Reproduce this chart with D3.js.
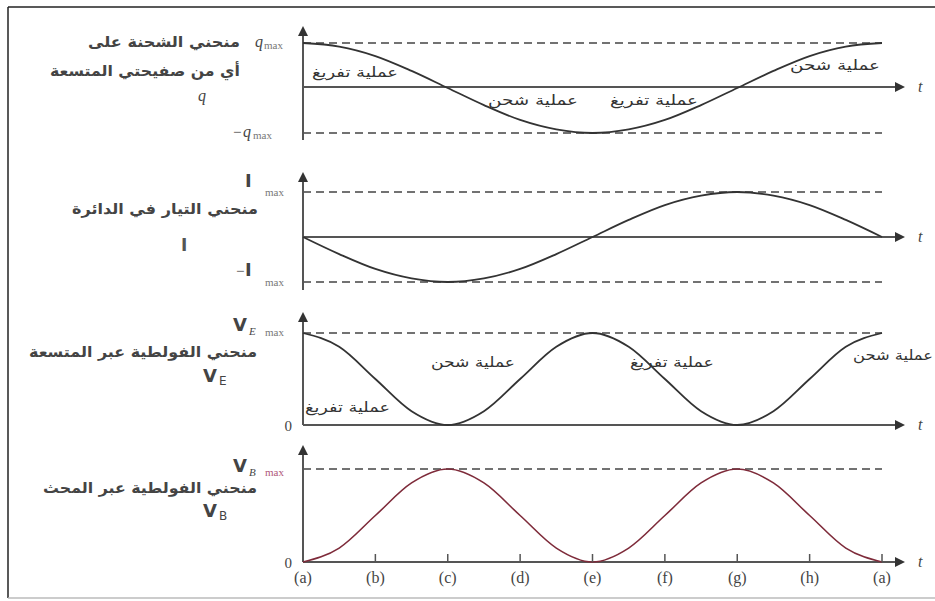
<!DOCTYPE html>
<html><head><meta charset="utf-8">
<script src="https://cdn.jsdelivr.net/npm/d3@7/dist/d3.min.js"></script>
<style>html,body{margin:0;padding:0;background:#fff;}svg{display:block;}</style>
</head><body><div id="chart"></div>
<script>
// ---- data ----
const timeLabels = ["(a)","(b)","(c)","(d)","(e)","(f)","(g)","(h)","(a)"];
const tSteps = [0,0.5,1,1.5,2,2.5,3,3.5,4,4.5,5,5.5,6,6.5,7,7.5,8];
const qValues  = [1,0.92,0.71,0.38,0,-0.38,-0.71,-0.92,-1,-0.92,-0.71,-0.38,0,0.38,0.71,0.92,1];
const iValues  = [0,-0.38,-0.71,-0.92,-1,-0.92,-0.71,-0.38,0,0.38,0.71,0.92,1,0.92,0.71,0.38,0];
const vEValues = [1,0.85,0.5,0.15,0,0.15,0.5,0.85,1,0.85,0.5,0.15,0,0.15,0.5,0.85,1];
const vBValues = [0,0.15,0.5,0.85,1,0.85,0.5,0.15,0,0.15,0.5,0.85,1,0.85,0.5,0.15,0];
const titles = [
  ["منحني الشحنة على","أي من صفيحتي المتسعة"],
  ["منحني التيار في الدائرة"],
  ["منحني الفولطية عبر المتسعة"],
  ["منحني الفولطية عبر المحث"]
];
const discharge = "عملية تفريغ", charge = "عملية شحن";

const W = 935, H = 601;
const svg = d3.select("#chart").append("svg").attr("width", W).attr("height", H);

// frame
svg.append("line").attr("x1",8).attr("y1",7).attr("x2",935).attr("y2",7).attr("stroke","#222").attr("stroke-width",1.5);
svg.append("line").attr("x1",8).attr("y1",7).attr("x2",8).attr("y2",598).attr("stroke","#222").attr("stroke-width",1.5);
svg.append("line").attr("x1",8).attr("y1",598).attr("x2",935).attr("y2",598).attr("stroke","#bbb").attr("stroke-width",1.5);

const x = d3.scaleLinear().domain([0,8]).range([303,882]);
const axisColor = "#555", curveColor = "#333";
const arabic = "'DejaVu Sans', sans-serif";
const serif = "'Liberation Serif', 'DejaVu Serif', serif";

const panels = [
  {vals:qValues, dom:[-1,1], rng:[133,43], zeroY:87, top:26, bot:140, vLines:[1,-1]},
  {vals:iValues, dom:[-1,1], rng:[282,192], zeroY:237, top:172, bot:290, vLines:[1,-1]},
  {vals:vEValues, dom:[0,1], rng:[425,333], zeroY:425, top:312, bot:425, vLines:[1]},
  {vals:vBValues, dom:[0,1], rng:[562,469], zeroY:562, top:445, bot:562, vLines:[1]}
];

panels.forEach((p,pi) => {
  const y = d3.scaleLinear().domain(p.dom).range(p.rng);
  p.y = y;
  const g = svg.append("g");
  p.vLines.forEach(v => {
    g.append("line").attr("x1", x(0)).attr("x2", x(8)).attr("y1", y(v)).attr("y2", y(v))
      .attr("stroke","#444").attr("stroke-width",1.6).attr("stroke-dasharray","8,5");
  });
  g.append("line").attr("x1",x(0)).attr("x2",x(0)).attr("y1",p.bot).attr("y2",p.top+8)
    .attr("stroke",axisColor).attr("stroke-width",2);
  g.append("path").attr("d",`M${x(0)-5},${p.top+10}L${x(0)},${p.top}L${x(0)+5},${p.top+10}Z`).attr("fill","#333");
  const ax1 = 905;
  g.append("line").attr("x1",x(0)).attr("x2",ax1-8).attr("y1",p.zeroY).attr("y2",p.zeroY)
    .attr("stroke",axisColor).attr("stroke-width",2);
  g.append("path").attr("d",`M${ax1-10},${p.zeroY-5}L${ax1},${p.zeroY}L${ax1-10},${p.zeroY+5}Z`).attr("fill","#333");
  g.append("text").attr("x",ax1+13).attr("y",p.zeroY+5).attr("font-family",serif).attr("font-style","italic")
    .attr("font-size",16).attr("fill","#444").text("t");
  const line = d3.line().x((d,i)=>x(tSteps[i])).y(d=>y(d)).curve(d3.curveMonotoneX);
  g.append("path").datum(p.vals).attr("d",line).attr("fill","none")
    .attr("stroke", pi===3 ? "#7e2b3a" : curveColor).attr("stroke-width", pi===3 ? 1.6 : 1.8);
});

// bottom time ticks and labels
const bottom = panels[3];
svg.append("g").selectAll("line").data(timeLabels.slice(1)).join("line")
  .attr("x1",(d,i)=>x(i+1)).attr("x2",(d,i)=>x(i+1)).attr("y1",bottom.zeroY).attr("y2",bottom.zeroY-8)
  .attr("stroke",axisColor).attr("stroke-width",1.5);
svg.append("g").selectAll("text").data(timeLabels).join("text")
  .attr("x",(d,i)=>x(i)).attr("y",583).attr("text-anchor","middle")
  .attr("font-family",serif).attr("font-size",16).attr("fill","#444").text(d=>d);

// y-side labels
function txt(xx, yy, s, opts){
  opts = opts || {};
  return svg.append("text").attr("x",xx).attr("y",yy)
    .attr("font-family",opts.family||serif).attr("font-size",opts.size||15)
    .attr("font-style",opts.italic?"italic":"normal").attr("font-weight",opts.bold?"bold":"normal")
    .attr("fill",opts.fill||"#444").text(s);
}
// q max
txt(255, 47, "q", {italic:true, size:16});
txt(264, 49, "max", {size:11, fill:"#777"});
txt(233, 137, "−", {size:15});
txt(243, 137, "q", {italic:true, size:16});
txt(253, 139, "max", {size:11, fill:"#777"});
// I max
txt(245, 187, "I", {family:arabic, bold:true, size:18});
txt(265, 196, "max", {size:11, fill:"#777"});
txt(236, 276, "−", {size:15});
txt(245, 276, "I", {family:arabic, bold:true, size:18});
txt(265, 286, "max", {size:11, fill:"#777"});
// V_E max
txt(233, 331, "V", {family:arabic, bold:true, size:18});
txt(249, 335, "E", {italic:true, size:11});
txt(265, 336, "max", {size:11, fill:"#777"});
// V_B max
txt(233, 472, "V", {family:arabic, bold:true, size:18});
txt(249, 476, "B", {italic:true, size:11});
txt(265, 476, "max", {size:11, fill:"#b0587a"});
// zeros
txt(292, 431, "0", {size:15}).attr("text-anchor","end");
txt(292, 568, "0", {size:15}).attr("text-anchor","end");

// Arabic titles
function arText(xRight, yy, s, size, len){
  return svg.append("text").attr("x",xRight).attr("y",yy).attr("text-anchor","start")
    .attr("direction","rtl").attr("font-family",arabic).attr("font-size",size)
    .attr("font-weight","bold").attr("fill","#444")
    .attr("textLength",len).attr("lengthAdjust","spacingAndGlyphs").text(s);
}
arText(240, 47, titles[0][0], 15, 152);
arText(240, 76, titles[0][1], 15, 190);
txt(198, 101, "q", {italic:true, size:16});
arText(258, 214, titles[1][0], 15, 186);
txt(181, 251, "I", {family:arabic, bold:true, size:17, fill:"#555"});
arText(257, 357, titles[2][0], 15, 228);
txt(203, 382, "V", {family:arabic, bold:true, size:18});
txt(219, 385, "E", {family:arabic, size:12});
arText(257, 493, titles[3][0], 15, 214);
txt(203, 517, "V", {family:arabic, bold:true, size:18});
txt(219, 520, "B", {family:arabic, size:12});

// curve annotations
function note(xRight, yy, s, len){
  svg.append("text").attr("x",xRight).attr("y",yy).attr("text-anchor","start").attr("direction","rtl")
    .attr("font-family",arabic).attr("font-size",14).attr("fill","#333")
    .attr("textLength",len).attr("lengthAdjust","spacingAndGlyphs").text(s);
}
note(398, 77, discharge, 86);
note(578, 105, charge, 90);
note(698, 105, discharge, 88);
note(880, 70, charge, 90);
note(390, 412, discharge, 85);
note(515, 367, charge, 84);
note(714, 367, discharge, 84);
note(933, 360, charge, 80);
</script></body></html>
